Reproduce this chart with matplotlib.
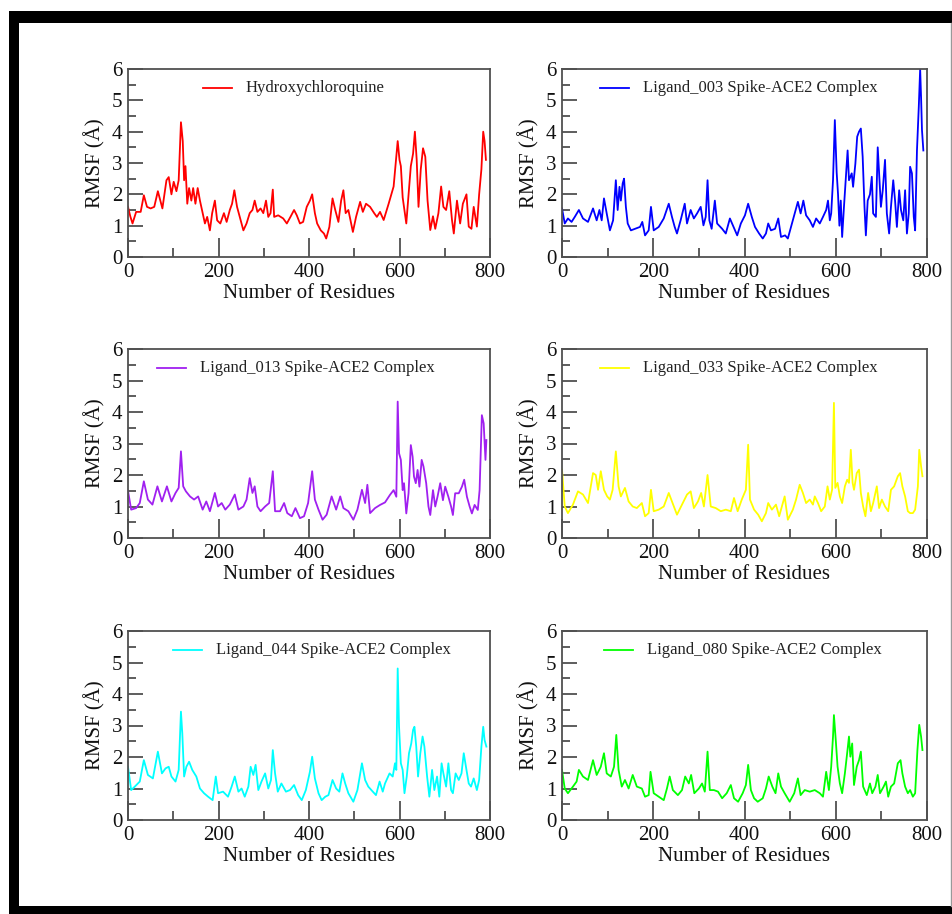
import numpy as np
import matplotlib.pyplot as plt
from matplotlib.patches import Rectangle
from matplotlib.lines import Line2D

# RMSF values, (residue, RMSF in Angstrom)
hcq = [(0, 1.6), (5, 1.3), (10, 1.07), (18, 1.44), (28, 1.44), (35, 1.97), (42, 1.6), (50, 1.55),
       (58, 1.6), (66, 2.1), (76, 1.55), (85, 2.45), (90, 2.55), (96, 2.0), (101, 2.4), (107, 2.1),
       (112, 2.45), (117, 4.3), (121, 3.7), (124, 2.45), (127, 2.9), (131, 1.7), (135, 2.2), (140, 1.8),
       (144, 2.2), (149, 1.7), (154, 2.2), (159, 1.8), (165, 1.4), (170, 1.07), (175, 1.28), (181, 0.85),
       (186, 1.4), (192, 1.8), (197, 1.17), (204, 1.07), (212, 1.4), (218, 1.12), (225, 1.5), (230, 1.7),
       (235, 2.13), (241, 1.6), (247, 1.28), (255, 0.85), (262, 1.07), (269, 1.4), (275, 1.5), (280, 1.8),
       (286, 1.44), (293, 1.55), (299, 1.4), (305, 1.8), (310, 1.28), (315, 1.4), (320, 2.15), (323, 1.28),
       (332, 1.33), (343, 1.23), (351, 1.07), (359, 1.28), (367, 1.5), (373, 1.33), (380, 1.07), (387, 1.12),
       (395, 1.6), (402, 1.8), (407, 2.0), (413, 1.4), (418, 1.07), (426, 0.85), (433, 0.75), (438, 0.59),
       (445, 0.96), (452, 1.87), (458, 1.5), (465, 1.12), (471, 1.8), (476, 2.13), (481, 1.4), (487, 1.5),
       (497, 0.8), (504, 1.28), (513, 1.76), (519, 1.44), (526, 1.7), (535, 1.6), (544, 1.4), (550, 1.28),
       (557, 1.44), (565, 1.18), (576, 1.7), (587, 2.25), (596, 3.7), (600, 3.1), (603, 2.9), (607, 1.9),
       (615, 1.07), (620, 2.0), (625, 2.9), (630, 3.3), (634, 4.0), (638, 3.1), (642, 1.6), (647, 2.8),
       (652, 3.47), (657, 3.2), (662, 1.8), (668, 0.86), (674, 1.3), (679, 0.9), (686, 1.4), (692, 2.25),
       (697, 1.6), (703, 1.5), (710, 2.1), (716, 1.18), (720, 0.75), (727, 1.8), (734, 1.07), (740, 1.7),
       (748, 2.0), (753, 0.97), (759, 0.9), (764, 1.6), (771, 0.97), (776, 2.0), (781, 2.8), (785, 4.0),
       (788, 3.7), (791, 3.1)]

lig003 = [(0, 1.55), (6, 1.07), (13, 1.23), (21, 1.12), (28, 1.28), (37, 1.5), (46, 1.23), (57, 1.12),
          (68, 1.55), (76, 1.17), (82, 1.5), (87, 1.17), (92, 1.87), (98, 1.39), (105, 0.85), (112, 1.17),
          (118, 2.45), (122, 1.5), (126, 2.24), (129, 1.8), (133, 2.35), (136, 2.5), (140, 1.6), (144, 1.07),
          (151, 0.85), (160, 0.9), (171, 0.96), (176, 1.12), (182, 0.69), (190, 0.85), (195, 1.6), (201, 0.85),
          (212, 0.96), (223, 1.23), (234, 1.7), (241, 1.28), (247, 0.96), (252, 0.75), (260, 1.17), (269, 1.7),
          (274, 1.07), (282, 1.5), (289, 1.23), (296, 1.39), (304, 1.6), (310, 1.01), (315, 1.28), (319, 2.45),
          (323, 1.17), (328, 0.9), (335, 1.8), (340, 1.07), (351, 0.9), (359, 0.75), (368, 1.23), (376, 0.96),
          (384, 0.69), (392, 1.07), (401, 1.33), (408, 1.7), (416, 1.28), (423, 0.96), (432, 0.75), (440, 0.59),
          (447, 0.75), (452, 1.07), (458, 0.85), (467, 0.9), (474, 1.23), (480, 0.64), (489, 0.69), (495, 0.59),
          (502, 0.96), (510, 1.39), (517, 1.76), (523, 1.39), (529, 1.8), (535, 1.33), (543, 1.17), (550, 0.96),
          (557, 1.23), (565, 1.07), (572, 1.28), (579, 1.5), (583, 1.8), (587, 1.17), (590, 1.39), (594, 2.45),
          (598, 4.37), (602, 2.7), (605, 2.0), (608, 1.0), (611, 1.8), (614, 0.64), (618, 1.6), (624, 2.93),
          (626, 3.4), (629, 2.45), (635, 2.67), (638, 2.24), (643, 2.98), (647, 3.84), (651, 4.0), (655, 4.1),
          (659, 3.2), (663, 1.6), (666, 0.69), (670, 1.8), (675, 2.0), (679, 2.56), (682, 1.39), (688, 1.28),
          (692, 3.5), (696, 2.45), (699, 1.6), (703, 2.13), (708, 3.1), (712, 1.39), (717, 0.75), (721, 1.6),
          (726, 2.45), (730, 1.8), (734, 0.96), (739, 2.13), (743, 1.5), (748, 1.17), (752, 2.13), (756, 0.75),
          (760, 1.39), (763, 2.88), (767, 2.67), (771, 1.28), (774, 0.85), (778, 3.4), (782, 4.8), (785, 6.0),
          (787, 5.1), (789, 4.05), (792, 3.4)]

lig013 = [(0, 1.5), (7, 0.9), (18, 0.95), (26, 1.11), (35, 1.8), (44, 1.22), (54, 1.06), (65, 1.64),
          (75, 1.16), (86, 1.64), (96, 1.16), (105, 1.43), (112, 1.59), (117, 2.75), (122, 1.64), (128, 1.48),
          (137, 1.32), (146, 1.22), (155, 1.32), (165, 0.9), (173, 1.16), (181, 0.85), (192, 1.43), (199, 1.0),
          (207, 1.11), (215, 0.9), (225, 1.06), (236, 1.38), (244, 0.9), (255, 1.0), (262, 1.22), (269, 1.9),
          (275, 1.43), (280, 1.64), (286, 1.0), (293, 0.85), (303, 1.0), (312, 1.11), (320, 2.12), (325, 0.85),
          (336, 0.85), (345, 1.11), (352, 0.79), (362, 0.69), (370, 0.95), (380, 0.63), (389, 0.69), (398, 1.11),
          (407, 2.12), (413, 1.22), (421, 0.9), (430, 0.58), (439, 0.74), (450, 1.32), (460, 0.9), (469, 1.32),
          (476, 0.95), (487, 0.85), (498, 0.58), (507, 0.9), (517, 1.53), (524, 1.11), (529, 1.69), (535, 0.79),
          (546, 0.95), (557, 1.05), (568, 1.13), (579, 1.37), (587, 1.52), (593, 1.31), (596, 4.33), (599, 2.69),
          (603, 2.48), (607, 1.52), (610, 1.74), (615, 0.78), (620, 1.42), (625, 2.95), (629, 2.58), (632, 1.95),
          (636, 1.74), (640, 2.16), (644, 1.63), (649, 2.48), (653, 2.27), (659, 1.74), (664, 1.0), (668, 0.73),
          (674, 1.52), (679, 1.0), (684, 1.31), (690, 1.74), (696, 1.2), (701, 1.63), (708, 1.31), (714, 1.0),
          (718, 0.73), (723, 1.42), (731, 1.42), (738, 1.63), (743, 1.85), (749, 1.31), (755, 1.0), (760, 0.78),
          (766, 1.05), (773, 0.89), (777, 1.52), (782, 3.9), (786, 3.64), (790, 2.48), (792, 3.11)]

lig033 = [(0, 2.17), (6, 1.0), (13, 0.79), (24, 1.06), (35, 1.48), (46, 1.38), (57, 1.11), (68, 2.06),
          (74, 2.0), (79, 1.53), (85, 2.12), (92, 1.53), (99, 1.32), (105, 1.22), (111, 1.53), (118, 2.75),
          (124, 1.64), (129, 1.32), (138, 1.59), (146, 1.16), (155, 1.0), (164, 0.95), (175, 1.11), (182, 0.69),
          (190, 0.79), (195, 1.53), (201, 0.85), (212, 0.9), (223, 1.0), (234, 1.43), (241, 1.16), (252, 0.74),
          (263, 1.06), (274, 1.38), (282, 1.48), (289, 0.95), (298, 1.16), (305, 1.43), (311, 1.0), (319, 2.0),
          (326, 1.0), (337, 0.95), (348, 0.85), (359, 0.9), (370, 0.85), (377, 1.27), (385, 0.85), (394, 1.22),
          (403, 1.53), (408, 2.96), (412, 1.22), (421, 0.9), (430, 0.74), (438, 0.53), (447, 0.79), (452, 1.11),
          (460, 0.9), (469, 1.06), (476, 0.69), (488, 1.32), (495, 0.58), (506, 0.9), (513, 1.22), (521, 1.69),
          (528, 1.43), (535, 1.11), (543, 1.22), (550, 1.06), (554, 1.32), (561, 1.11), (568, 0.85), (576, 1.0),
          (582, 1.64), (587, 1.22), (592, 1.53), (596, 4.29), (599, 1.59), (604, 1.75), (609, 1.32), (614, 1.11),
          (620, 1.64), (625, 1.85), (629, 1.75), (633, 2.8), (637, 1.75), (640, 1.53), (646, 2.06), (651, 2.17),
          (655, 1.43), (660, 1.0), (665, 0.69), (671, 1.43), (677, 0.85), (682, 1.11), (690, 1.64), (695, 0.95),
          (701, 1.22), (708, 1.0), (715, 0.85), (721, 1.53), (728, 1.64), (736, 1.96), (741, 2.06), (746, 1.64),
          (752, 1.32), (758, 0.85), (763, 0.79), (769, 0.79), (774, 0.9), (780, 1.64), (783, 2.8), (787, 2.28),
          (790, 1.96)]

lig044 = [(0, 1.69), (7, 0.95), (15, 1.06), (26, 1.22), (35, 1.9), (44, 1.43), (55, 1.32), (66, 2.17),
          (75, 1.48), (83, 1.64), (90, 1.69), (96, 1.38), (105, 1.22), (112, 1.59), (117, 3.44), (120, 2.75),
          (124, 1.38), (129, 1.69), (135, 1.85), (142, 1.59), (151, 1.38), (159, 1.0), (168, 0.85), (177, 0.74),
          (187, 0.63), (194, 1.38), (199, 0.85), (210, 0.9), (221, 0.74), (229, 1.06), (236, 1.38), (244, 0.9),
          (251, 1.0), (258, 0.74), (266, 1.06), (271, 1.69), (277, 1.43), (282, 1.75), (288, 0.95), (295, 1.22),
          (303, 1.48), (310, 1.0), (316, 1.27), (320, 2.22), (325, 1.48), (331, 0.9), (339, 1.16), (349, 0.9),
          (358, 0.95), (367, 1.11), (376, 0.79), (384, 0.63), (393, 0.95), (402, 1.53), (407, 2.01), (413, 1.32),
          (421, 0.85), (428, 0.63), (436, 0.74), (443, 0.79), (452, 1.27), (460, 1.0), (467, 0.9), (474, 1.48),
          (480, 1.16), (487, 0.85), (498, 0.58), (507, 0.95), (517, 1.8), (524, 1.27), (531, 1.06), (541, 0.9),
          (548, 0.79), (556, 1.22), (563, 0.9), (568, 1.16), (578, 1.48), (585, 1.38), (590, 1.8), (593, 1.59),
          (596, 4.81), (599, 2.96), (603, 1.8), (607, 1.59), (611, 0.85), (616, 1.38), (621, 2.12), (626, 2.43),
          (630, 2.86), (633, 2.96), (637, 2.33), (641, 1.38), (646, 2.12), (651, 2.65), (655, 2.33), (661, 1.38),
          (666, 0.74), (672, 1.59), (677, 0.95), (683, 1.38), (688, 0.74), (693, 1.8), (697, 1.48), (703, 1.06),
          (708, 1.8), (714, 0.95), (718, 0.85), (724, 1.48), (731, 1.27), (737, 1.48), (742, 2.12), (748, 1.59),
          (753, 1.16), (758, 1.06), (764, 1.32), (771, 0.95), (776, 1.27), (781, 2.33), (785, 2.96), (788, 2.54),
          (792, 2.33)]

lig080 = [(0, 1.59), (6, 1.0), (13, 0.85), (24, 1.06), (32, 1.22), (37, 1.59), (46, 1.38), (57, 1.27),
          (68, 1.9), (76, 1.43), (85, 1.69), (92, 2.12), (98, 1.48), (107, 1.38), (114, 1.69), (119, 2.7),
          (124, 1.59), (131, 1.06), (138, 1.27), (146, 1.0), (155, 1.43), (164, 1.06), (175, 1.0), (182, 0.74),
          (190, 0.79), (194, 1.53), (201, 0.85), (212, 0.74), (223, 0.63), (230, 1.0), (236, 1.38), (243, 0.95),
          (254, 0.79), (263, 0.95), (270, 1.38), (278, 1.16), (283, 1.43), (290, 0.85), (300, 1.0), (307, 1.16),
          (313, 0.9), (319, 2.17), (324, 0.95), (333, 0.95), (342, 0.9), (351, 0.69), (361, 0.85), (370, 1.11),
          (377, 0.69), (386, 0.58), (396, 0.85), (403, 1.11), (408, 1.75), (414, 0.95), (421, 0.69), (429, 0.58),
          (440, 0.69), (447, 1.0), (453, 1.38), (461, 1.06), (468, 0.85), (474, 1.48), (480, 1.06), (488, 0.85),
          (499, 0.58), (509, 0.85), (517, 1.32), (523, 0.79), (532, 0.95), (543, 0.9), (554, 0.95), (565, 0.85),
          (572, 0.74), (579, 1.53), (585, 0.95), (590, 1.69), (594, 2.65), (596, 3.33), (600, 2.54), (604, 1.69),
          (609, 1.16), (614, 0.85), (620, 1.48), (625, 2.12), (629, 2.65), (632, 2.01), (636, 2.43), (640, 1.11),
          (646, 1.69), (651, 1.9), (655, 2.17), (660, 1.06), (668, 0.79), (675, 1.16), (680, 0.85), (687, 1.06),
          (692, 1.43), (697, 0.85), (705, 1.06), (710, 1.22), (715, 0.74), (721, 1.06), (728, 1.16), (736, 1.8),
          (742, 1.9), (746, 1.48), (752, 1.06), (758, 0.85), (763, 0.95), (769, 0.74), (774, 0.85), (779, 2.22),
          (783, 3.02), (787, 2.65), (790, 2.22)]

series = [hcq, lig003, lig013, lig033, lig044, lig080]
labels = ['Hydroxychloroquine', 'Ligand_003 Spike-ACE2 Complex', 'Ligand_013 Spike-ACE2 Complex',
          'Ligand_033 Spike-ACE2 Complex', 'Ligand_044 Spike-ACE2 Complex', 'Ligand_080 Spike-ACE2 Complex']
colors = ['#ff0000', '#0000ff', '#a020f0', '#ffff00', '#00ffff', '#00ff00']
legend_x = [0.207, 0.104, 0.08, 0.104, 0.124, 0.115]

plt.rcParams['font.family'] = ['Liberation Serif', 'DejaVu Serif']
W, H = 953, 914
fig = plt.figure(figsize=(W / 100, H / 100), dpi=100)

# axes boxes in pixels: left, top, right, bottom
boxes = [(128, 69, 490, 257), (562, 69, 927, 257),
         (128, 349, 490, 538), (562, 349, 927, 538),
         (128, 631, 490, 820), (562, 631, 927, 820)]

frame_col = '#505050'
for i in range(6):
    l, t, r, b = boxes[i]
    ax = fig.add_axes([l / W, (H - b) / H, (r - l) / W, (b - t) / H])
    xs, ys = np.array(series[i]).T
    ax.plot(xs, ys, color=colors[i], lw=1.3)
    ax.set_xlim(0, 800)
    ax.set_ylim(0, 6)
    ax.set_xticks(range(0, 801, 200))
    ax.set_xticks(range(100, 800, 200), minor=True)
    ax.set_yticks(range(0, 7))
    ax.set_yticks(np.arange(0.5, 6, 1), minor=True)
    ax.tick_params(which='both', direction='in', top=False, right=False,
                   color=frame_col, width=1.3, labelsize=15, labelcolor='#111111')
    ax.tick_params(axis='x', which='major', length=13.5, pad=4)
    ax.tick_params(axis='x', which='minor', length=6.5)
    ax.tick_params(axis='y', which='major', length=10.8, pad=4)
    ax.tick_params(axis='y', which='minor', length=5.8)
    for s in ax.spines.values():
        s.set_color(frame_col)
        s.set_linewidth(1.3)
    ax.set_xlabel('Number of Residues', fontsize=15, labelpad=2, color='#111111')
    ax.set_ylabel('RMSF (Å)', fontsize=15, labelpad=5, color='#111111')

    # grace style legend: short line + text
    lx = legend_x[i]
    ax.plot([lx, lx + 0.08], [0.9, 0.9], color=colors[i], lw=1.3, transform=ax.transAxes)
    ax.text(lx + 0.118, 0.9, labels[i], transform=ax.transAxes, fontsize=12,
            va='center', ha='left', color='#222222')

# thick black frame round the figure (right side cropped in the original)
fig.add_artist(Rectangle((9 / W, 0), 10 / W, (H - 11) / H, transform=fig.transFigure,
                         facecolor='black', edgecolor='none'))
fig.add_artist(Rectangle((9 / W, (H - 23) / H), (W - 9) / W, 12 / H, transform=fig.transFigure,
                         facecolor='black', edgecolor='none'))
fig.add_artist(Rectangle((9 / W, 0), (W - 9) / W, 8 / H, transform=fig.transFigure,
                         facecolor='black', edgecolor='none'))
fig.add_artist(Line2D([951 / W, 951 / W], [8 / H, (H - 23) / H], transform=fig.transFigure,
                      color='#999999', lw=1))

fig.savefig('out.png', dpi=100)
